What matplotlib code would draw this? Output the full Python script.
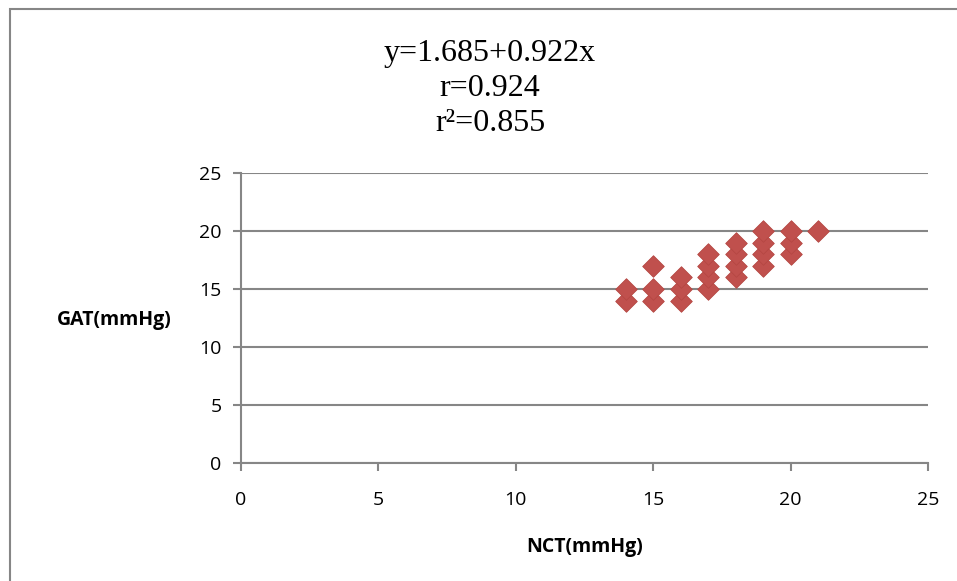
import matplotlib
matplotlib.use("Agg")
import matplotlib.pyplot as plt
from matplotlib.patches import Rectangle

# NCT vs GAT readings (mmHg)
nct = [14, 14, 15, 15, 15, 16, 16, 16, 17, 17, 17, 17,
       18, 18, 18, 18, 19, 19, 19, 19, 20, 20, 20, 21]
gat = [14, 15, 14, 15, 17, 14, 15, 16, 15, 16, 17, 18,
       16, 17, 18, 19, 17, 18, 19, 20, 18, 19, 20, 20]

ticks = [0, 5, 10, 15, 20, 25]
stats_lines = ["y=1.685+0.922x", "r=0.924", "r²=0.855"]

sans = ["Liberation Sans Narrow", "Open Sans", "DejaVu Sans"]
grey = "#868686"

fig = plt.figure(figsize=(9.57, 5.81), dpi=100)
ax = fig.add_axes([241 / 957, 1 - 463 / 581, (928 - 241) / 957, (463 - 173) / 581])

# outer chart frame (runs off the right/bottom edge)
fig.patches.append(Rectangle((10 / 957, -0.1), 1.2, 1 - 9 / 581 + 0.1,
                             transform=fig.transFigure, fill=False,
                             edgecolor=grey, linewidth=1.5))

ax.scatter(nct, gat, marker="D", s=11 ** 2, color="#C0504D",
           edgecolor="#B54743", linewidth=0.6, zorder=3)

ax.set_xlim(0, 25)
ax.set_ylim(0, 25)
ax.set_xticks(ticks)
ax.set_yticks(ticks)
ax.grid(axis="y", color=grey, linewidth=1.5)
ax.set_axisbelow(True)
for s in ["top", "right"]:
    ax.spines[s].set_visible(False)
for s in ["left", "bottom"]:
    ax.spines[s].set_color(grey)
    ax.spines[s].set_linewidth(1.5)
ax.tick_params(colors=grey, width=1.5, length=6, labelcolor="black",
               labelsize=14, pad=8)
ax.tick_params(axis="x", pad=14)
for lbl in ax.get_xticklabels() + ax.get_yticklabels():
    lbl.set_family(sans)

ax.set_xlabel("NCT(mmHg)", fontsize=14, fontweight="bold", family=sans, labelpad=20)
fig.text(114 / 957, 1 - 320 / 581, "GAT(mmHg)", fontsize=14, fontweight="bold",
         family=sans, ha="center", va="center")

# regression summary, one line at a time
for i, line in enumerate(stats_lines):
    fig.text(490 / 957, 1 - (61 + 35 * i) / 581, line, fontsize=23,
             family="Liberation Serif", ha="center", va="baseline")

fig.savefig("out.png", dpi=100)
